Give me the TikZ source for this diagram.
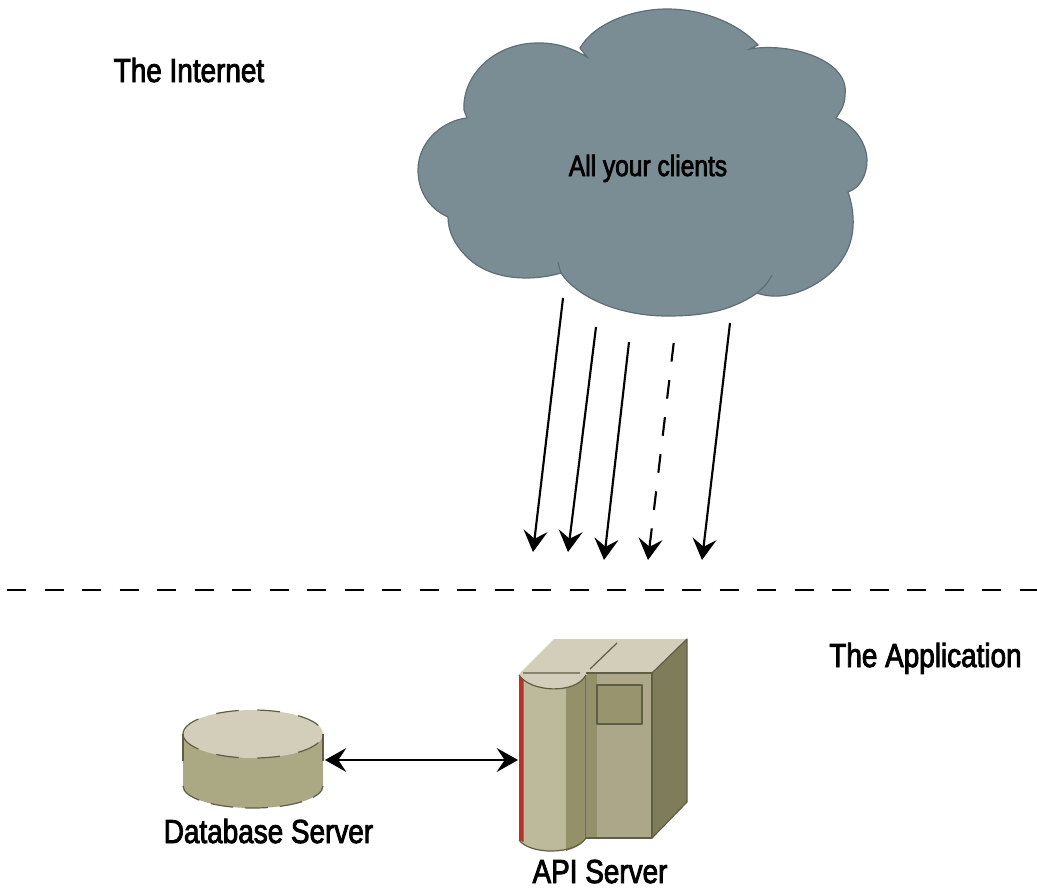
\documentclass[tikz,border=0pt]{standalone}
\usepackage{fontspec}
\setmainfont[FakeStretch=0.837,FakeBold=2.5]{Liberation Sans}
\usetikzlibrary{arrows.meta}
\definecolor{cloudgray}{HTML}{7A8D95}
\definecolor{cloudline}{HTML}{5E6E74}
\definecolor{hosttop}{HTML}{D2CEBA}
\definecolor{hostlight}{HTML}{BDB99B}
\definecolor{hostfront}{HTML}{ABA788}
\definecolor{hostdark}{HTML}{949169}
\definecolor{hostbody}{HTML}{ABA884}
\definecolor{hostside}{HTML}{7E7C59}
\definecolor{hostline}{HTML}{5F5D44}
\definecolor{hostred}{HTML}{B5332A}
\tikzset{
  label text/.style={font=\fontsize{25}{28}\selectfont,inner sep=0pt,anchor=base},
  small text/.style={font=\fontsize{22}{26}\selectfont,inner sep=0pt,anchor=base},
  flow/.style={line width=1.6pt,-{Stealth[length=16pt,width=18pt,inset=6pt]}},
  both flow/.style={line width=1.6pt,{Stealth[length=16pt,width=18pt,inset=6pt]}-{Stealth[length=16pt,width=18pt,inset=6pt]}},
  host edge/.style={draw=hostline,line width=0.9pt,line join=round},
}
\begin{document}
\begin{tikzpicture}[x=0.75pt,y=-0.75pt]
  \useasboundingbox (0,0) rectangle (1037,889);
  % cloud
  \draw[fill=cloudgray,draw=cloudline,line width=0.9pt]
    (587,57) -- (580,48) .. controls (595,22) and (635,9) .. (667,9)
    .. controls (705,9) and (740,25) .. (758,45) -- (750,49)
    .. controls (790,42) and (850,60) .. (845,95)
    .. controls (845,105) and (840,112) .. (836,118)
    .. controls (855,125) and (867,145) .. (867,160)
    .. controls (867,175) and (860,188) .. (848,192)
    .. controls (856,215) and (855,240) .. (843,258)
    .. controls (830,280) and (790,305) .. (757,293)
    .. controls (730,312) and (700,316) .. (667,316)
    .. controls (620,316) and (578,298) .. (561,273)
    .. controls (530,282) and (490,280) .. (467,257)
    .. controls (455,245) and (448,232) .. (448,217)
    .. controls (428,208) and (418,190) .. (418,170)
    .. controls (418,140) and (445,120) .. (467,118)
    -- (464,110) .. controls (462,75) and (495,42) .. (540,43)
    .. controls (560,43) and (575,50) .. (587,57) -- cycle;
  \draw[draw=cloudline,line width=0.9pt] (558,262) .. controls (559,266) and (560,270) .. (561,273);
  \draw[draw=cloudline,line width=0.9pt] (772,275) .. controls (768,283) and (763,288) .. (757,293);
  \node[small text] (clients) at (648,176) {All your clients};
  \node[label text] (internet) at (189,82) {The Internet};
  \node[label text] (application) at (925.5,667) {The Application};
  % request arrows
  \coordinate (c1) at (563,298);
  \coordinate (c2) at (596,327);
  \coordinate (c3) at (629,342);
  \coordinate (c4) at (673.7,343);
  \coordinate (c5) at (730,323);
  \coordinate (t1) at (533,552);
  \coordinate (t2) at (568,552);
  \coordinate (t3) at (604,560);
  \coordinate (t4) at (648,560);
  \coordinate (t5) at (702,560);
  \foreach \i in {1,2,3,5}
    \draw[flow] (c\i) -- (t\i);
  \draw[flow,dash pattern=on 14pt off 14pt] (c4) -- (t4);
  % boundary
  \coordinate (left) at (7,590);
  \coordinate (right) at (1037,590);
  \draw[line width=1.6pt,dash pattern=on 14.25pt off 13.875pt] (left) -- (right);
  % database
  \fill[hostbody] (183,734) -- (183,786) arc[start angle=180,end angle=0,x radius=70,y radius=22] -- (323,734) -- cycle;
  \fill[hosttop] (253,734) ellipse[x radius=70,y radius=24];
  \draw[host edge] (183,734) -- (183,761) (323,734) -- (323,761);
  \draw[host edge,dash pattern=on 17pt off 9pt] (183,786) arc[start angle=180,end angle=0,x radius=70,y radius=22];
  \draw[host edge,dash pattern=on 17pt off 14pt] (183,734) arc[start angle=180,end angle=0,x radius=70,y radius=24];
  \draw[host edge,dash pattern=on 17pt off 14pt] (183,734) arc[start angle=180,end angle=360,x radius=70,y radius=24];
  \node[label text] (database) at (268.5,843) {Database Server};
  % api server
  \fill[hostside] (652,673) -- (687,639) -- (687,802) -- (652,838) -- cycle;
  \fill[hosttop] (520,673) -- (554,639) -- (687,639) -- (652,673) -- cycle;
  \fill[hostfront] (587,673) rectangle (652,838);
  \fill[hostdark] (587,673) rectangle (597,838);
  \draw[host edge,fill=hostdark!85!hostfront] (597,685) rectangle (642,724);
  \fill[hostlight] (519,675) .. controls (530,685) and (570,695) .. (586,675) -- (586,838)
    .. controls (575,855) and (530,855) .. (519,840) -- cycle;
  \fill[hostdark] (566,685) -- (586,675) -- (586,838) .. controls (582,845) and (575,848) .. (566,851) -- cycle;
  \fill[hosttop] (519,675) .. controls (530,692) and (575,695) .. (586,675) -- (587,673) -- (520,673) -- cycle;
  \fill[hostred] (519,675) -- (523.5,680) -- (523.5,842) -- (519,840) -- cycle;
  \draw[host edge] (519,675) .. controls (530,692) and (575,695) .. (586,675)
    -- (586,838) .. controls (575,855) and (530,855) .. (519,840);
  \draw[host edge] (523,673) -- (580,673) (590,669) -- (617,643);
  \draw[host edge] (586,673) -- (652,673) -- (652,838) -- (586,838);
  \draw[host edge] (652,673) -- (687,639) -- (687,802) -- (652,838);
  \node[label text] (api) at (600,883) {API Server};
  % link
  \coordinate (dbport) at (325,760);
  \coordinate (apiport) at (518,760);
  \draw[both flow] (dbport) -- (apiport);
\end{tikzpicture}
\end{document}
